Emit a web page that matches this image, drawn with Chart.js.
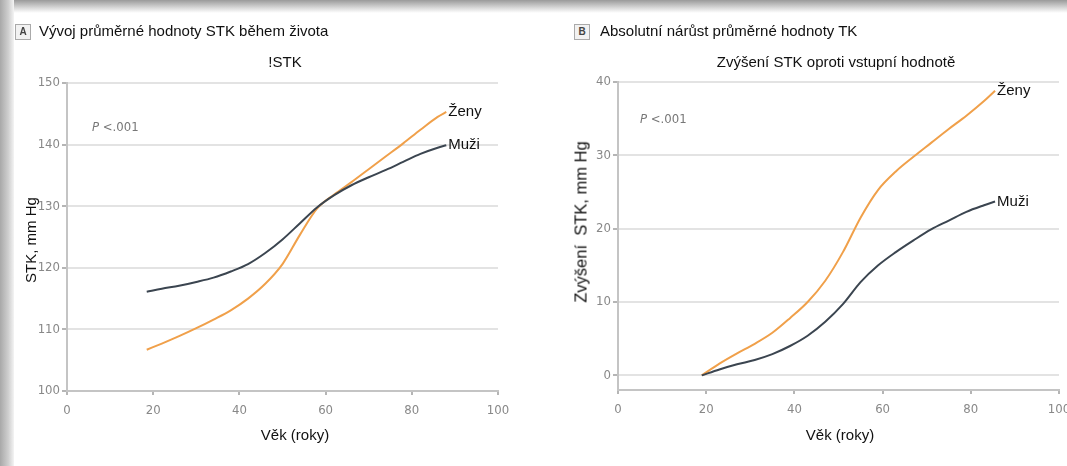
<!DOCTYPE html>
<html><head><meta charset="utf-8">
<script src="https://cdn.jsdelivr.net/npm/chart.js@4.4.1/dist/chart.umd.min.js"></script>
<style>
html,body{margin:0;padding:0;width:1067px;height:466px;overflow:hidden;background:#fff;}
#wrap{position:relative;width:1067px;height:466px;overflow:hidden;font-family:"Liberation Sans",Arial,sans-serif;}
.frameTop{position:absolute;left:0;top:0;width:1067px;height:13px;background:linear-gradient(#9a9a9a,#d8d8d8 60%,#fff);}
.frameLeft{position:absolute;left:0;top:0;width:14px;height:466px;background:linear-gradient(90deg,#a8a8a8,#cfcfcf 60%,#f4f4f4);}
canvas{position:absolute;top:0;}
.t{position:absolute;white-space:nowrap;color:#111;font-size:15px;line-height:18px;}
.c{transform:translateX(-50%);}
.box{position:absolute;width:14px;height:14px;border:1px solid #aaa;background:#f2f2f2;font-size:10px;font-weight:bold;text-align:center;line-height:14px;color:#444;}
.p{position:absolute;white-space:nowrap;color:#777;font-size:13px;font-family:"DejaVu Sans Condensed","Liberation Sans",sans-serif;}
.rot{position:absolute;white-space:nowrap;color:#111;font-size:15px;transform:translate(-50%,-50%) rotate(-90deg);}
</style></head>
<body><div id="wrap">
<canvas id="cA" width="540" height="466" style="left:0;width:540px;height:466px"></canvas>
<canvas id="cB" width="560" height="466" style="left:540px;width:560px;height:466px"></canvas>
<div class="frameTop"></div><div class="frameLeft"></div>
<div class="box" style="left:15px;top:24px">A</div>
<div class="t" style="left:39px;top:22px">Vývoj průměrné hodnoty STK během života</div>
<div class="t c" style="left:285px;top:53px">!STK</div>
<div class="box" style="left:574px;top:24px">B</div>
<div class="t" style="left:600px;top:22px">Absolutní nárůst průměrné hodnoty TK</div>
<div class="t c" style="left:836px;top:53px">Zvýšení STK oproti vstupní hodnotě</div>
<div class="p" style="left:92px;top:119px"><i>P</i> &lt;.001</div>
<div class="p" style="left:640px;top:111px"><i>P</i> &lt;.001</div>
<div class="rot" style="left:30px;top:240px">STK, mm Hg</div>
<div class="rot" style="left:581px;top:222px;font-size:16.5px">Zvýšení&nbsp; STK, mm Hg</div>
<div class="t c" style="left:295px;top:426px">Věk (roky)</div>
<div class="t c" style="left:840px;top:426px">Věk (roky)</div>
</div>
<script>
// ---- data ----
const ageTicks = [0, 20, 40, 60, 80, 100];
const stkTicks = [100, 110, 120, 130, 140, 150];
const riseTicks = [0, 10, 20, 30, 40];

const agesA = [18.5, 22, 26, 30, 34, 38, 42, 46, 50, 54, 58, 62, 66, 70, 74, 78, 82, 86, 88];
const stkA_muzi = [116.1, 116.6, 117.1, 117.7, 118.4, 119.4, 120.6, 122.4, 124.6, 127.2, 129.8, 131.8, 133.4, 134.7, 135.9, 137.2, 138.5, 139.5, 139.9];
const stkA_zeny = [106.7, 107.7, 108.9, 110.2, 111.6, 113.1, 115.0, 117.4, 120.6, 125.3, 129.6, 131.9, 133.9, 136.0, 138.1, 140.2, 142.4, 144.5, 145.3];

const agesB = [19, 23, 27, 31, 35, 39, 43, 47, 51, 55, 59, 63, 67, 71, 75, 79, 83, 85.5];
const riseB_muzi = [0, 0.8, 1.5, 2.1, 2.9, 4.0, 5.4, 7.3, 9.7, 12.7, 15.0, 16.8, 18.4, 19.9, 21.1, 22.3, 23.2, 23.7];
const riseB_zeny = [0, 1.6, 3.0, 4.3, 5.8, 7.8, 10.0, 12.9, 16.8, 21.5, 25.3, 27.8, 29.8, 31.7, 33.6, 35.4, 37.4, 38.8];

const seriesNames = ['Muži', 'Ženy'];
const colMuzi = '#3b4550', colZeny = '#f0a04a';

function pts(xs, ys){ return xs.map((x,i)=>({x:x, y:ys[i]})); }

const endLabels = {
  id:'endLabels',
  afterDatasetsDraw(chart){
    const ctx = chart.ctx;
    ctx.save();
    ctx.font = '15px "Liberation Sans", Arial, sans-serif';
    ctx.fillStyle = '#111';
    ctx.textBaseline = 'middle';
    chart.data.datasets.forEach((ds,i)=>{
      const meta = chart.getDatasetMeta(i);
      const last = meta.data[meta.data.length-1];
      ctx.fillText(ds.label, last.x + 2, last.y);
    });
    ctx.restore();
  }
};

const tickFont = {family:'"DejaVu Sans Condensed","Liberation Sans",sans-serif', size:13};

function makeChart(id, dsM, dsZ, yMin, yMax, yTicks, leftW, bottomH, padTop, padRight){
  return new Chart(document.getElementById(id), {
    type:'line',
    data:{datasets:[
      {label:seriesNames[0], data:dsM, borderColor:colMuzi, borderWidth:2, pointRadius:0, cubicInterpolationMode:'monotone', fill:false},
      {label:seriesNames[1], data:dsZ, borderColor:colZeny, borderWidth:2, pointRadius:0, cubicInterpolationMode:'monotone', fill:false}
    ]},
    options:{
      responsive:false, animation:false, devicePixelRatio:1,
      layout:{padding:{top:padTop, right:padRight, left:0, bottom:0}},
      plugins:{legend:{display:false}, tooltip:{enabled:false}, title:{display:false}},
      scales:{
        x:{type:'linear', min:0, max:100,
          afterBuildTicks(s){ s.ticks = ageTicks.map(v=>({value:v})); },
          afterFit(s){ s.height = bottomH; },
          grid:{drawOnChartArea:false, drawTicks:true, tickLength:4, tickColor:'#b5b5b5', lineWidth:2},
          border:{color:'#c4c4c4', width:2},
          ticks:{color:'#888888', font:tickFont, padding:8, maxRotation:0}
        },
        y:{type:'linear', min:yMin, max:yMax,
          afterBuildTicks(s){ s.ticks = yTicks.map(v=>({value:v})); },
          afterFit(s){ s.width = leftW; },
          grid:{color:'#e3e3e3', lineWidth:2, drawTicks:true, tickLength:5, tickColor:'#b5b5b5'},
          border:{color:'#c4c4c4', width:2},
          ticks:{color:'#888888', font:tickFont, padding:2}
        }
      }
    },
    plugins:[endLabels]
  });
}

makeChart('cA', pts(agesA, stkA_muzi), pts(agesA, stkA_zeny), 100, 150, stkTicks, 67, 75, 83, 42);
makeChart('cB', pts(agesB, riseB_muzi), pts(agesB, riseB_zeny), -2, 40, riseTicks, 78, 76, 82, 41);
</script>
</body></html>
